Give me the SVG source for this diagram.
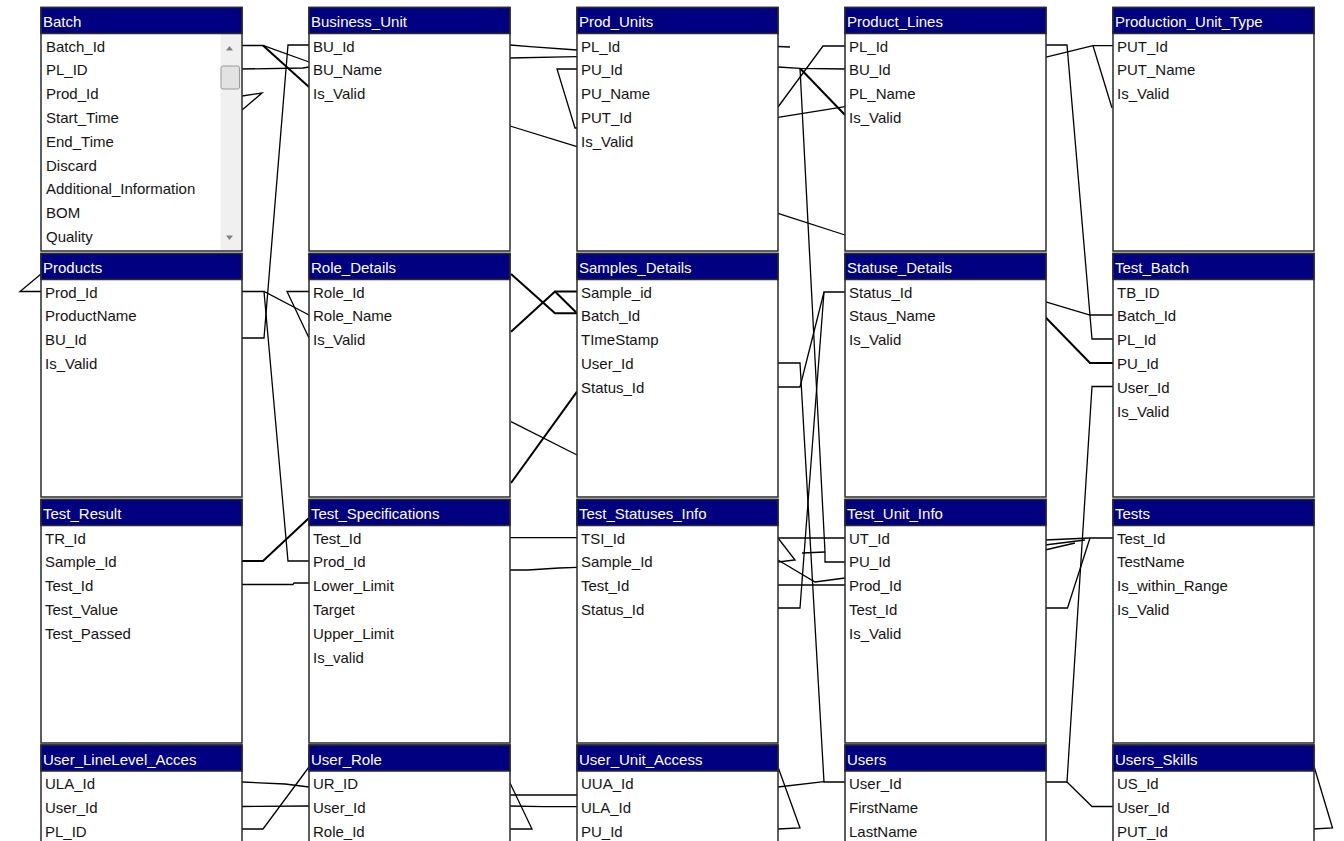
<svg xmlns="http://www.w3.org/2000/svg" width="1344" height="841" viewBox="0 0 1344 841">
<style>
.box{fill:#fff;stroke:#2a2a2a;stroke-width:1.5}
.hdr{fill:#000080;stroke:#2a2a2a;stroke-width:1.5}
text{font-family:"Liberation Sans",Arial,sans-serif;font-size:15px}
.h{fill:#fff}
.f{fill:#141414}
#connectors path{fill:none;stroke:#000;stroke-width:1.3}
#connectors path.k{stroke-width:2}
</style>
<rect width="1344" height="841" fill="#fff"/>
<g id="connectors">
<path d="M242,45.5 L263,45.5 L309,62"/>
<path class="k" d="M263,45.5 L309,87"/>
<path d="M242,69 L303,68 L309,67"/>
<path d="M309,45 L288,45 L264,338 L242,338"/>
<path d="M242,110 L262,93 L242,96"/>
<path d="M41,274 L20,291.5 L41,291.5"/>
<path d="M242,291.5 L264,291.5 L309,315"/>
<path d="M264,291.5 L288,561 L309,561"/>
<path d="M309,291.5 L287,291.5 L309,338"/>
<path class="k" d="M242,561 L263,561 L309,518"/>
<path d="M242,584.5 L293,584.5 L294,583 L309,583"/>
<path d="M242,782 L285,784 L309,787"/>
<path d="M242,806.5 L309,806"/>
<path d="M242,829 L263,829 L309,767"/>
<path d="M510,45 L530,46.7 L577,50"/>
<path d="M510,58 L577,56.7"/>
<path d="M577,69 L557,69 L575,128 L577,128"/>
<path d="M510,126 L577,146.7"/>
<path class="k" d="M511,274 L555,313.3 L577,313.3"/>
<path class="k" d="M577,291.5 L555,291.5 L511,331.7"/>
<path class="k" d="M555,291.5 L577,313.3"/>
<path class="k" d="M511,483 L577,391.7"/>
<path d="M511,421.7 L577,455"/>
<path d="M510,537.7 L577,537.7"/>
<path d="M510,570 L528,570 L559,568 L577,567.3"/>
<path d="M510,783 L532,829 L510,829"/>
<path d="M510,795 L543,795 L577,795"/>
<path d="M510,806 L543,806.7 L577,806.7"/>
<path d="M778,46.5 L790,47"/>
<path d="M778,107 L823,46 L845,46"/>
<path d="M778,67 L800,68.3 L845,69"/>
<path class="k" d="M800,68.3 L845,115"/>
<path d="M778,117.3 L845,106.7"/>
<path d="M800,68.3 L825,552 L825,562 L845,562"/>
<path d="M778,213.3 L845,235"/>
<path d="M778,387 L800,387 L824,292 L845,292"/>
<path d="M778,363 L800,363 L824,782 L845,782"/>
<path d="M778,608 L800,608 L824,292"/>
<path d="M778,538 L845,538"/>
<path d="M778,538 L795,560 L778,562"/>
<path d="M802,553 L825,552"/>
<path d="M778,560 L815,582 L845,578"/>
<path d="M778,585 L845,585"/>
<path d="M778,767 L800,828 L778,829"/>
<path d="M778,787 L824,781.7"/>
<path d="M1045,45 L1067,45 L1092,339 L1113,339"/>
<path d="M1045,57.3 L1093,45.7 L1113,45.7"/>
<path d="M1093,45.7 L1112,108"/>
<path d="M1045,301.7 L1090,315 L1113,315"/>
<path class="k" d="M1045,316.7 L1090,363 L1113,363"/>
<path d="M1113,386.5 L1092,386.5 L1067,782 L1046,782"/>
<path d="M1067,782 L1092,806.5 L1113,806.5"/>
<path d="M1045,608 L1067.5,608 L1090,538 L1113,538"/>
<path d="M1045,540 L1090,538"/>
<path d="M1045,545 L1085,540"/>
<path d="M1045,550 L1075,543"/>
<path d="M1313,763 L1332.5,828 L1313,829"/>
</g>

<g id="Batch" transform="translate(41,7.5)">
<rect class="box" width="201" height="243.5"/>
<rect x="179.5" y="26" width="20.5" height="216.5" fill="#f0f0f0"/>
<path d="M185,43 L188.5,38.5 L192,43 Z" fill="#808080"/>
<rect x="180" y="58.5" width="18.5" height="23" rx="2" fill="#e2e2e2" stroke="#9a9a9a"/>
<path d="M185,228 L188.5,232.5 L192,228 Z" fill="#808080"/>
<rect class="hdr" width="201" height="26"/>
<text class="h" x="2" y="19.5">Batch</text>
<text class="f" x="5" y="44">Batch_Id</text>
<text class="f" x="5" y="67.8">PL_ID</text>
<text class="f" x="5" y="91.6">Prod_Id</text>
<text class="f" x="5" y="115.4">Start_Time</text>
<text class="f" x="5" y="139.2">End_Time</text>
<text class="f" x="5" y="163">Discard</text>
<text class="f" x="5" y="186.8">Additional_Information</text>
<text class="f" x="5" y="210.6">BOM</text>
<text class="f" x="5" y="234.4">Quality</text>
</g>

<g id="Business_Unit" transform="translate(309,7.5)">
<rect class="box" width="201" height="243.5"/>
<rect class="hdr" width="201" height="26"/>
<text class="h" x="2" y="19.5">Business_Unit</text>
<text class="f" x="4" y="44">BU_Id</text>
<text class="f" x="4" y="67.8">BU_Name</text>
<text class="f" x="4" y="91.6">Is_Valid</text>
</g>

<g id="Prod_Units" transform="translate(577,7.5)">
<rect class="box" width="201" height="243.5"/>
<rect class="hdr" width="201" height="26"/>
<text class="h" x="2" y="19.5">Prod_Units</text>
<text class="f" x="4" y="44">PL_Id</text>
<text class="f" x="4" y="67.8">PU_Id</text>
<text class="f" x="4" y="91.6">PU_Name</text>
<text class="f" x="4" y="115.4">PUT_Id</text>
<text class="f" x="4" y="139.2">Is_Valid</text>
</g>

<g id="Product_Lines" transform="translate(845,7.5)">
<rect class="box" width="201" height="243.5"/>
<rect class="hdr" width="201" height="26"/>
<text class="h" x="2" y="19.5">Product_Lines</text>
<text class="f" x="4" y="44">PL_Id</text>
<text class="f" x="4" y="67.8">BU_Id</text>
<text class="f" x="4" y="91.6">PL_Name</text>
<text class="f" x="4" y="115.4">Is_Valid</text>
</g>

<g id="Production_Unit_Type" transform="translate(1113,7.5)">
<rect class="box" width="201" height="243.5"/>
<rect class="hdr" width="201" height="26"/>
<text class="h" x="2" y="19.5">Production_Unit_Type</text>
<text class="f" x="4" y="44">PUT_Id</text>
<text class="f" x="4" y="67.8">PUT_Name</text>
<text class="f" x="4" y="91.6">Is_Valid</text>
</g>

<g id="Products" transform="translate(41,253.5)">
<rect class="box" width="201" height="243.5"/>
<rect class="hdr" width="201" height="26"/>
<text class="h" x="2" y="19.5">Products</text>
<text class="f" x="4" y="44">Prod_Id</text>
<text class="f" x="4" y="67.8">ProductName</text>
<text class="f" x="4" y="91.6">BU_Id</text>
<text class="f" x="4" y="115.4">Is_Valid</text>
</g>

<g id="Role_Details" transform="translate(309,253.5)">
<rect class="box" width="201" height="243.5"/>
<rect class="hdr" width="201" height="26"/>
<text class="h" x="2" y="19.5">Role_Details</text>
<text class="f" x="4" y="44">Role_Id</text>
<text class="f" x="4" y="67.8">Role_Name</text>
<text class="f" x="4" y="91.6">Is_Valid</text>
</g>

<g id="Samples_Details" transform="translate(577,253.5)">
<rect class="box" width="201" height="243.5"/>
<rect class="hdr" width="201" height="26"/>
<text class="h" x="2" y="19.5">Samples_Details</text>
<text class="f" x="4" y="44">Sample_id</text>
<text class="f" x="4" y="67.8">Batch_Id</text>
<text class="f" x="4" y="91.6">TImeStamp</text>
<text class="f" x="4" y="115.4">User_Id</text>
<text class="f" x="4" y="139.2">Status_Id</text>
</g>

<g id="Statuse_Details" transform="translate(845,253.5)">
<rect class="box" width="201" height="243.5"/>
<rect class="hdr" width="201" height="26"/>
<text class="h" x="2" y="19.5">Statuse_Details</text>
<text class="f" x="4" y="44">Status_Id</text>
<text class="f" x="4" y="67.8">Staus_Name</text>
<text class="f" x="4" y="91.6">Is_Valid</text>
</g>

<g id="Test_Batch" transform="translate(1113,253.5)">
<rect class="box" width="201" height="243.5"/>
<rect class="hdr" width="201" height="26"/>
<text class="h" x="2" y="19.5">Test_Batch</text>
<text class="f" x="4" y="44">TB_ID</text>
<text class="f" x="4" y="67.8">Batch_Id</text>
<text class="f" x="4" y="91.6">PL_Id</text>
<text class="f" x="4" y="115.4">PU_Id</text>
<text class="f" x="4" y="139.2">User_Id</text>
<text class="f" x="4" y="163">Is_Valid</text>
</g>

<g id="Test_Result" transform="translate(41,499.5)">
<rect class="box" width="201" height="243.5"/>
<rect class="hdr" width="201" height="26"/>
<text class="h" x="2" y="19.5">Test_Result</text>
<text class="f" x="4" y="44">TR_Id</text>
<text class="f" x="4" y="67.8">Sample_Id</text>
<text class="f" x="4" y="91.6">Test_Id</text>
<text class="f" x="4" y="115.4">Test_Value</text>
<text class="f" x="4" y="139.2">Test_Passed</text>
</g>

<g id="Test_Specifications" transform="translate(309,499.5)">
<rect class="box" width="201" height="243.5"/>
<rect class="hdr" width="201" height="26"/>
<text class="h" x="2" y="19.5">Test_Specifications</text>
<text class="f" x="4" y="44">Test_Id</text>
<text class="f" x="4" y="67.8">Prod_Id</text>
<text class="f" x="4" y="91.6">Lower_Limit</text>
<text class="f" x="4" y="115.4">Target</text>
<text class="f" x="4" y="139.2">Upper_Limit</text>
<text class="f" x="4" y="163">Is_valid</text>
</g>

<g id="Test_Statuses_Info" transform="translate(577,499.5)">
<rect class="box" width="201" height="243.5"/>
<rect class="hdr" width="201" height="26"/>
<text class="h" x="2" y="19.5">Test_Statuses_Info</text>
<text class="f" x="4" y="44">TSI_Id</text>
<text class="f" x="4" y="67.8">Sample_Id</text>
<text class="f" x="4" y="91.6">Test_Id</text>
<text class="f" x="4" y="115.4">Status_Id</text>
</g>

<g id="Test_Unit_Info" transform="translate(845,499.5)">
<rect class="box" width="201" height="243.5"/>
<rect class="hdr" width="201" height="26"/>
<text class="h" x="2" y="19.5">Test_Unit_Info</text>
<text class="f" x="4" y="44">UT_Id</text>
<text class="f" x="4" y="67.8">PU_Id</text>
<text class="f" x="4" y="91.6">Prod_Id</text>
<text class="f" x="4" y="115.4">Test_Id</text>
<text class="f" x="4" y="139.2">Is_Valid</text>
</g>

<g id="Tests" transform="translate(1113,499.5)">
<rect class="box" width="201" height="243.5"/>
<rect class="hdr" width="201" height="26"/>
<text class="h" x="2" y="19.5">Tests</text>
<text class="f" x="4" y="44">Test_Id</text>
<text class="f" x="4" y="67.8">TestName</text>
<text class="f" x="4" y="91.6">Is_within_Range</text>
<text class="f" x="4" y="115.4">Is_Valid</text>
</g>

<g id="User_LineLevel_Acces" transform="translate(41,745)">
<rect class="box" width="201" height="243.5"/>
<rect class="hdr" width="201" height="26"/>
<text class="h" x="2" y="19.5">User_LineLevel_Acces</text>
<text class="f" x="4" y="44">ULA_Id</text>
<text class="f" x="4" y="67.8">User_Id</text>
<text class="f" x="4" y="91.6">PL_ID</text>
</g>

<g id="User_Role" transform="translate(309,745)">
<rect class="box" width="201" height="243.5"/>
<rect class="hdr" width="201" height="26"/>
<text class="h" x="2" y="19.5">User_Role</text>
<text class="f" x="4" y="44">UR_ID</text>
<text class="f" x="4" y="67.8">User_Id</text>
<text class="f" x="4" y="91.6">Role_Id</text>
</g>

<g id="User_Unit_Access" transform="translate(577,745)">
<rect class="box" width="201" height="243.5"/>
<rect class="hdr" width="201" height="26"/>
<text class="h" x="2" y="19.5">User_Unit_Access</text>
<text class="f" x="4" y="44">UUA_Id</text>
<text class="f" x="4" y="67.8">ULA_Id</text>
<text class="f" x="4" y="91.6">PU_Id</text>
</g>

<g id="Users" transform="translate(845,745)">
<rect class="box" width="201" height="243.5"/>
<rect class="hdr" width="201" height="26"/>
<text class="h" x="2" y="19.5">Users</text>
<text class="f" x="4" y="44">User_Id</text>
<text class="f" x="4" y="67.8">FirstName</text>
<text class="f" x="4" y="91.6">LastName</text>
</g>

<g id="Users_Skills" transform="translate(1113,745)">
<rect class="box" width="201" height="243.5"/>
<rect class="hdr" width="201" height="26"/>
<text class="h" x="2" y="19.5">Users_Skills</text>
<text class="f" x="4" y="44">US_Id</text>
<text class="f" x="4" y="67.8">User_Id</text>
<text class="f" x="4" y="91.6">PUT_Id</text>
</g>
</svg>
